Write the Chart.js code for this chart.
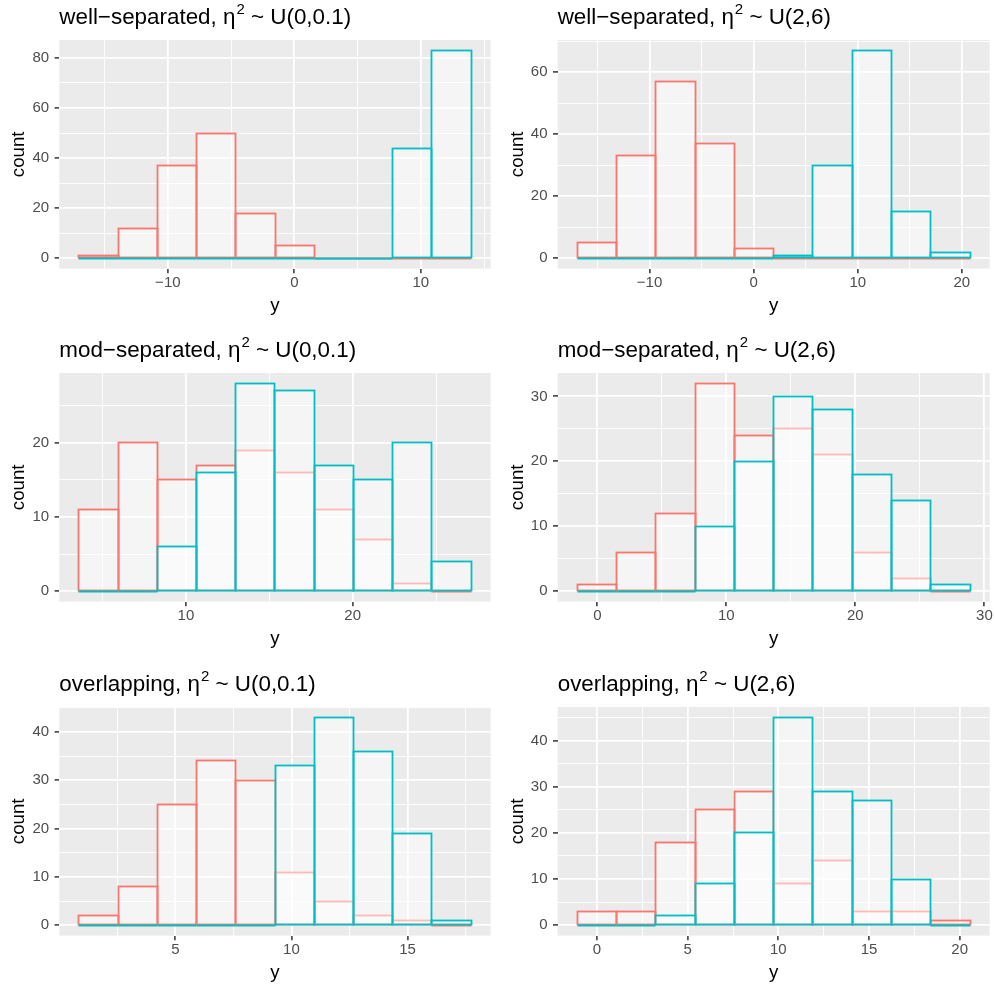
<!DOCTYPE html>
<html>
<head>
<meta charset="utf-8">
<script src="https://cdn.jsdelivr.net/npm/chart.js@4.4.1/dist/chart.umd.min.js"></script>
<style>
  body { margin: 0; background: #fff; }
  #fig { position: relative; width: 995px; height: 985px; }
  #fig canvas { position: absolute; }
</style>
</head>
<body>
<div id="fig"></div>
<script>
// rows: separation level, columns: prior on eta^2
const separation = ["well\u2212separated", "mod\u2212separated", "overlapping"];
const etaPrior = ["U(0,0.1)", "U(2,6)"];

// 10 bins per panel: left edge of the first bin and the bin width
const binStart = [-17.03, -16.94, 3.58, -1.55, 0.848, -1.087];
const binWidth = [3.1, 3.773, 2.352, 3.044, 1.689, 2.166];

const countsRed = [
  [1, 12, 37, 50, 18, 5, 0, 0, 0, 0],
  [5, 33, 57, 37, 3, 0, 0, 0, 0, 0],
  [11, 20, 15, 17, 19, 16, 11, 7, 1, 0],
  [1, 6, 12, 32, 24, 25, 21, 6, 2, 0],
  [2, 8, 25, 34, 30, 11, 5, 2, 1, 0],
  [3, 3, 18, 25, 29, 9, 14, 3, 3, 1],
];
const countsCyan = [
  [0, 0, 0, 0, 0, 0, 0, 0, 44, 83],
  [0, 0, 0, 0, 0, 1, 30, 67, 15, 2],
  [0, 0, 6, 16, 28, 27, 17, 15, 20, 4],
  [0, 0, 0, 10, 20, 30, 28, 18, 14, 1],
  [0, 0, 0, 0, 0, 33, 43, 36, 19, 1],
  [0, 0, 2, 9, 20, 45, 29, 27, 10, 0],
];

// labelled breaks on each axis
const xBreaks = [
  [-10, 0, 10],
  [-10, 0, 10, 20],
  [10, 20],
  [0, 10, 20, 30],
  [5, 10, 15],
  [0, 5, 10, 15, 20],
];
const yBreaks = [
  [0, 20, 40, 60, 80],
  [0, 20, 40, 60],
  [0, 10, 20],
  [0, 10, 20, 30],
  [0, 10, 20, 30, 40],
  [0, 10, 20, 30, 40],
];

const FONT = '"Liberation Sans", Arial, Helvetica, sans-serif';
const RED = "#F8766D";
const CYAN = "#00BFC4";
const BAR_FILL = "rgba(255,255,255,0.5)";
const LINE_W = 1.8;

const ROW_TOP = [0, 333, 667];
const COL_LEFT = [0, 497];
const CANVAS_W = [497, 498];
const CANVAS_H = 318;
const PANEL_TOP = 40;
const PANEL_H = 228.6;
const AXIS_W = [59.3, 60.7];
const PAD_RIGHT = [6.3, 5.3];

// minor grid lines sit halfway between the major ones
function minorBreaks(major, lo, hi) {
  const step = major[1] - major[0];
  const out = [];
  for (let v = major[0] - step / 2; v <= major[major.length - 1] + step; v += step) {
    if (v > lo && v < hi) out.push(v);
  }
  return out;
}

function tickList(major, lo, hi) {
  const ticks = major.filter(v => v >= lo && v <= hi).map(v => ({ value: v }));
  minorBreaks(major, lo, hi).forEach(v => ticks.push({ value: v, minor: true }));
  return ticks.sort((a, b) => a.value - b.value);
}

function fmt(v) {
  return String(v).replace("-", "\u2212");
}

// keep outlines on pixel centres so overlapping strokes stay crisp
const snap = v => Math.round(v - 0.5) + 0.5;

const panelBg = {
  id: "panelBg",
  beforeDraw(chart) {
    const { ctx, chartArea: a } = chart;
    ctx.save();
    ctx.fillStyle = "#EBEBEB";
    ctx.fillRect(a.left, a.top, a.right - a.left, a.bottom - a.top);
    ctx.restore();
  },
};

// outline every bin (zero bins become a line along the base)
const binOutline = {
  id: "binOutline",
  afterDatasetDraw(chart, args) {
    const ds = chart.data.datasets[args.index];
    const ctx = chart.ctx;
    ctx.save();
    ctx.strokeStyle = ds.outline;
    ctx.lineWidth = LINE_W;
    ctx.lineJoin = "miter";
    args.meta.data.forEach(bar => {
      const { x, y, base, width } = bar.getProps(["x", "y", "base", "width"], true);
      const l = snap(x - width / 2), r = snap(x + width / 2);
      const t = snap(Math.min(y, base)), b = snap(Math.max(y, base));
      ctx.strokeRect(l, t, r - l, b - t);
    });
    ctx.restore();
  },
};

const panelTitle = {
  id: "panelTitle",
  afterDraw(chart, args, opts) {
    const { ctx, chartArea } = chart;
    const y = 24;
    let x = chartArea.left;
    ctx.save();
    ctx.fillStyle = "#000";
    ctx.textBaseline = "alphabetic";
    ctx.textAlign = "left";
    ctx.font = `22.4px ${FONT}`;
    const head = opts.head + ", \u03b7";
    ctx.fillText(head, x, y);
    x += ctx.measureText(head).width + 1;
    ctx.font = `15px ${FONT}`;
    ctx.fillText("2", x, y - 10.5);
    x += ctx.measureText("2").width;
    ctx.font = `22.4px ${FONT}`;
    ctx.fillText(" ~ " + opts.tail, x, y);
    ctx.restore();
  },
};

function gridStyle() {
  return {
    color: "#FFFFFF",
    lineWidth: c => (c.tick && c.tick.minor ? 0.9 : LINE_W),
    tickColor: c => (c.tick && c.tick.minor ? "rgba(0,0,0,0)" : "#333333"),
    tickLength: 4.7,
    tickWidth: 1.5,
    offset: false,
  };
}

function renderPanel(p) {
  const row = Math.floor(p / 2);
  const col = p % 2;

  const canvas = document.createElement("canvas");
  canvas.width = CANVAS_W[col];
  canvas.height = CANVAS_H;
  canvas.style.left = COL_LEFT[col] + "px";
  canvas.style.top = ROW_TOP[row] + "px";
  document.getElementById("fig").appendChild(canvas);

  const centers = countsRed[p].map((_, i) => binStart[p] + binWidth[p] * (i + 0.5));
  const xLo = binStart[p];
  const xHi = binStart[p] + binWidth[p] * countsRed[p].length;
  const xPad = 0.05 * (xHi - xLo);
  const yMax = Math.max(...countsRed[p], ...countsCyan[p]);
  const yPad = 0.05 * yMax;
  const xMin = xLo - xPad, xMax = xHi + xPad;
  const yMin = -yPad, yTop = yMax + yPad;

  const barOpts = {
    backgroundColor: BAR_FILL,
    borderWidth: 0,
    inflateAmount: 0,
    grouped: false,
    barPercentage: 1,
    categoryPercentage: 1,
  };

  new Chart(canvas, {
    type: "bar",
    data: {
      datasets: [
        Object.assign({
          label: "a",
          outline: RED,
          order: 2,
          data: centers.map((x, i) => ({ x: x, y: countsRed[p][i] })),
        }, barOpts),
        Object.assign({
          label: "b",
          outline: CYAN,
          order: 1,
          data: centers.map((x, i) => ({ x: x, y: countsCyan[p][i] })),
        }, barOpts),
      ],
    },
    options: {
      responsive: false,
      animation: false,
      devicePixelRatio: 1,
      layout: { padding: { top: PANEL_TOP, right: PAD_RIGHT[col], left: 0, bottom: 0 } },
      plugins: {
        legend: { display: false },
        tooltip: { enabled: false },
        title: { display: false },
        panelTitle: { head: separation[row], tail: etaPrior[col] },
      },
      scales: {
        x: {
          type: "linear",
          offset: false,
          min: xMin,
          max: xMax,
          afterBuildTicks: s => { s.ticks = tickList(xBreaks[p], xMin, xMax); },
          afterFit: s => {
            s.height = CANVAS_H - PANEL_TOP - PANEL_H;
            s.paddingLeft = 0;
            s.paddingRight = 0;
          },
          ticks: {
            autoSkip: false,
            maxRotation: 0,
            padding: 0.3,
            color: "#4D4D4D",
            font: { family: FONT, size: 15 },
            callback: (v, i, ticks) => (ticks[i].minor ? "" : fmt(v)),
          },
          grid: gridStyle(),
          border: { display: false },
          title: {
            display: true,
            text: "y",
            color: "#000",
            font: { family: FONT, size: 18.7 },
            padding: { top: 0, bottom: 1 },
          },
        },
        y: {
          min: yMin,
          max: yTop,
          afterBuildTicks: s => { s.ticks = tickList(yBreaks[p], yMin, yTop); },
          afterFit: s => {
            s.width = AXIS_W[col];
            s.paddingTop = 0;
            s.paddingBottom = 0;
          },
          ticks: {
            autoSkip: false,
            padding: 5.5,
            color: "#4D4D4D",
            font: { family: FONT, size: 15 },
            callback: (v, i, ticks) => (ticks[i].minor ? "" : fmt(v)),
          },
          grid: gridStyle(),
          border: { display: false },
          title: {
            display: true,
            text: "count",
            color: "#000",
            font: { family: FONT, size: 18.7 },
            padding: { top: 8 + (AXIS_W[col] - AXIS_W[0]), bottom: 0 },
          },
        },
      },
    },
    plugins: [panelBg, binOutline, panelTitle],
  });
}

for (let p = 0; p < 6; p++) renderPanel(p);
</script>
</body>
</html>
